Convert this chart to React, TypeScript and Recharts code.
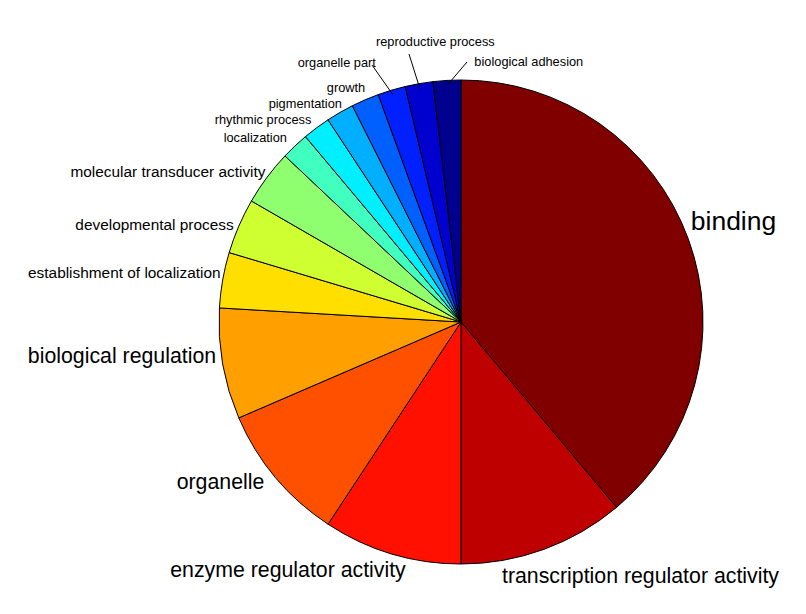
import { PieChart, Pie, Cell } from 'recharts';

const categories = [
  'binding',
  'transcription regulator activity',
  'enzyme regulator activity',
  'organelle',
  'biological regulation',
  'establishment of localization',
  'developmental process',
  'molecular transducer activity',
  'localization',
  'rhythmic process',
  'pigmentation',
  'growth',
  'organelle part',
  'reproductive process',
  'biological adhesion',
];

const counts = [21, 6, 5, 5, 4, 2, 2, 2, 1, 1, 1, 1, 1, 1, 1];

// jet colormap, dark red down to dark blue
const jetColors = [
  '#800000', '#BF0000', '#FF1000', '#FF5000', '#FF9F00',
  '#FFDF00', '#CFFF30', '#8FFF70', '#40FFBF', '#00EFFF',
  '#00AFFF', '#0060FF', '#0020FF', '#0000CF', '#00008F',
];

const data = categories.map((name, i) => ({ name, value: counts[i] }));

// label anchor offsets from the pie centre (text centre x, baseline y)
const labelLayout: Record<string, { dx: number; dy: number; line?: [number, number] }> = {
  'binding': { dx: 272.5, dy: -92 },
  'transcription regulator activity': { dx: 179.5, dy: 261 },
  'enzyme regulator activity': { dx: -173, dy: 255 },
  'organelle': { dx: -240.5, dy: 167 },
  'biological regulation': { dx: -339, dy: 41 },
  'establishment of localization': { dx: -336.7, dy: -44 },
  'developmental process': { dx: -306.5, dy: -92 },
  'molecular transducer activity': { dx: -293, dy: -145 },
  'localization': { dx: -205.7, dy: -180 },
  'rhythmic process': { dx: -198, dy: -198 },
  'pigmentation': { dx: -155.7, dy: -214 },
  'growth': { dx: -115, dy: -230 },
  'organelle part': { dx: -124.2, dy: -255, line: [-89, -257] },
  'reproductive process': { dx: -25.7, dy: -276, line: [-52, -268] },
  'biological adhesion': { dx: 67.8, dy: -256, line: [6, -260] },
};

const fontSizeFor = (v: number) => (v >= 10 ? 26.5 : v >= 4 ? 21.3 : v >= 2 ? 15.4 : 12.8);

const RAD = Math.PI / 180;

const renderLabel = (props: any) => {
  const { cx, cy, midAngle, outerRadius, name, value } = props;
  const layout = labelLayout[name];
  if (!layout) return null;
  let leader = null;
  if (layout.line) {
    const ex = cx + outerRadius * 0.98 * Math.cos(-midAngle * RAD);
    const ey = cy + outerRadius * 0.98 * Math.sin(-midAngle * RAD);
    leader = (
      <line x1={cx + layout.line[0]} y1={cy + layout.line[1]} x2={ex} y2={ey} stroke="#000" strokeWidth={1} />
    );
  }
  return (
    <g key={name}>
      {leader}
      <text
        x={cx + layout.dx}
        y={cy + layout.dy}
        textAnchor="middle"
        fill="#000"
        fontSize={fontSizeFor(value)}
        fontFamily="'Liberation Sans', Arial, sans-serif"
      >
        {name}
      </text>
    </g>
  );
};

export default function App() {
  return (
    <div style={{ width: 798, height: 606, background: '#fff' }}>
      <PieChart width={798} height={606} margin={{ top: 0, right: 0, bottom: 0, left: 0 }}>
        <Pie
          data={data}
          dataKey="value"
          nameKey="name"
          cx={453}
          cy={314}
          outerRadius={242}
          startAngle={90}
          endAngle={-270}
          stroke="#000"
          strokeWidth={1}
          label={renderLabel}
          labelLine={false}
          isAnimationActive={false}
        >
          {data.map((d, i) => (
            <Cell key={d.name} fill={jetColors[i]} />
          ))}
        </Pie>
      </PieChart>
    </div>
  );
}
